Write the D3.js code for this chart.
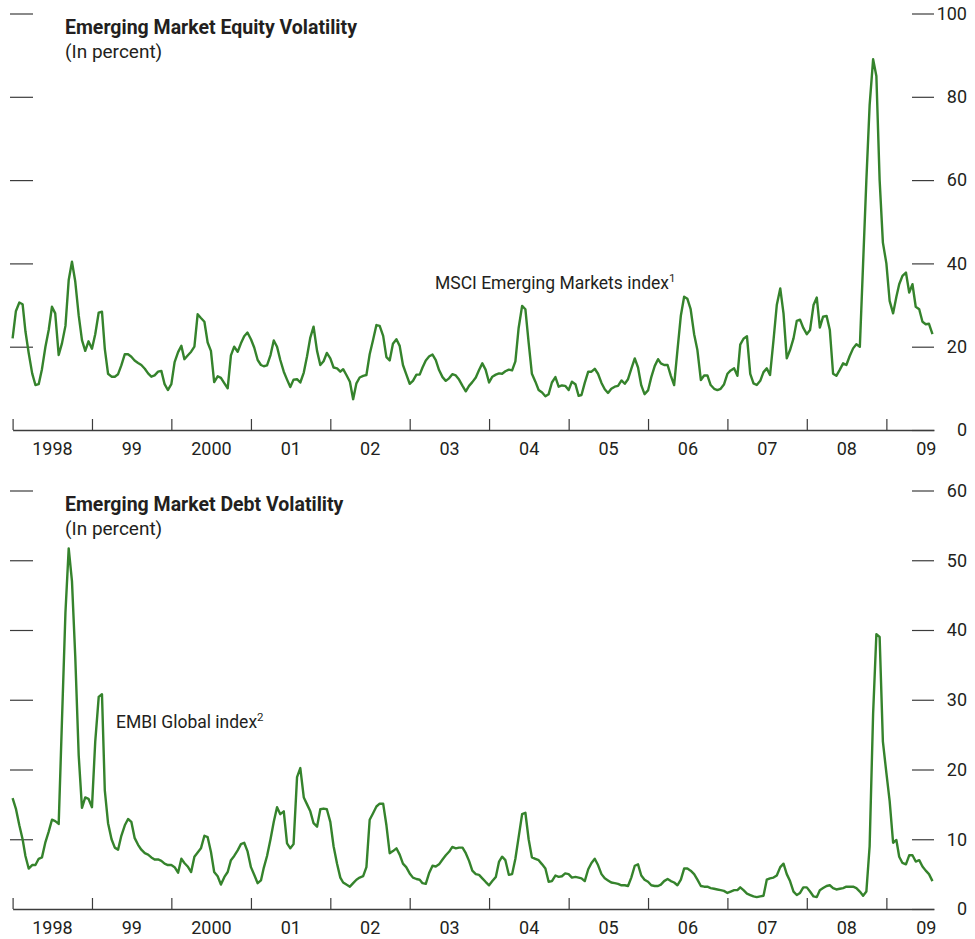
<!DOCTYPE html>
<html>
<head>
<meta charset="utf-8">
<script src="https://cdn.jsdelivr.net/npm/d3@7"></script>
<style>
  body { margin: 0; background: #fff; }
  svg text { font-family: "Liberation Sans Narrow", "Arial Narrow", "Roboto", sans-serif; fill: #231f20; }
</style>
</head>
<body>
<svg id="canvas" width="975" height="939"></svg>
<script>
// MSCI Emerging Markets index volatility, semi-monthly readings from Jan 1998
const equityValues = [
  22.0, 28.5, 30.6, 30.2, 23.7, 18.5, 13.6, 10.8, 11.0, 14.6,
  20.0, 24.0, 29.6, 28.0, 18.0, 20.8, 25.0, 36.0, 40.4, 35.7,
  27.5, 21.6, 19.0, 21.3, 19.5, 23.0, 28.2, 28.4, 19.5, 13.5,
  12.8, 12.8, 13.4, 15.5, 18.2, 18.2, 17.6, 16.7, 16.1, 15.6,
  14.7, 13.6, 12.8, 13.1, 14.0, 14.2, 11.0, 9.6, 11.0, 16.3,
  18.7, 20.2, 17.0, 17.9, 18.8, 20.0, 27.8, 26.9, 26.0, 21.0,
  19.0, 11.5, 12.9, 12.5, 11.2, 10.0, 17.9, 20.0, 18.8, 20.8,
  22.5, 23.4, 21.8, 19.8, 16.8, 15.6, 15.3, 15.5, 18.0, 21.5,
  20.0, 16.8, 14.0, 12.1, 10.3, 12.1, 12.2, 11.4, 13.8, 17.7,
  22.2, 24.8, 19.0, 15.6, 16.5, 18.5, 17.2, 15.0, 14.8, 14.0,
  14.6, 13.2, 11.6, 7.4, 11.2, 12.6, 13.0, 13.2, 18.2, 21.5,
  25.2, 25.0, 22.6, 17.5, 16.7, 20.7, 21.8, 20.2, 15.6, 13.4,
  11.1, 11.8, 13.3, 13.3, 15.0, 16.7, 17.7, 18.1, 16.8, 14.4,
  12.7, 11.8, 12.4, 13.4, 13.1, 12.1, 10.6, 9.3, 10.6, 11.5,
  12.6, 14.4, 16.0, 14.5, 11.4, 12.8, 13.3, 13.6, 13.5, 14.1,
  14.5, 14.3, 16.5, 24.5, 29.8, 29.0, 21.0, 13.5, 11.6, 9.6,
  9.0, 8.1, 8.6, 11.4, 12.7, 10.4, 10.7, 10.6, 9.6, 11.6,
  11.0, 8.2, 8.4, 11.3, 14.0, 14.0, 14.7, 13.5, 11.3, 9.8,
  8.9, 9.9, 10.4, 10.6, 11.9, 11.1, 12.2, 14.7, 17.2, 15.0,
  10.7, 8.6, 9.5, 12.7, 15.4, 17.0, 16.0, 15.6, 15.6, 13.0,
  10.8, 19.0, 27.5, 32.0, 31.5, 29.0, 23.0, 19.2, 12.0, 13.1,
  13.1, 10.8, 9.9, 9.6, 9.9, 10.9, 13.5, 14.3, 14.8, 13.0,
  20.5, 21.9, 22.5, 13.5, 11.2, 10.8, 11.8, 13.9, 14.8, 13.2,
  21.6, 30.0, 34.0, 28.0, 17.2, 19.2, 22.0, 26.2, 26.5, 24.5,
  23.0, 24.0, 30.0, 31.8, 24.6, 27.2, 27.4, 24.0, 13.5, 13.0,
  14.5, 16.0, 15.6, 17.7, 19.6, 20.6, 20.0, 40.0, 60.0, 78.0,
  89.0, 85.0, 60.0, 45.0, 40.0, 31.0, 28.0, 32.0, 35.0, 37.0,
  37.8, 33.0, 35.0, 29.6, 29.0, 26.0, 25.4, 25.5, 23.0
];

// EMBI Global index volatility, same dates
const embiValues = [
  15.9, 14.4, 12.0, 10.0, 7.6, 5.8, 6.3, 6.3, 7.2, 7.4,
  9.6, 11.1, 12.8, 12.6, 12.2, 27.0, 42.5, 51.7, 47.0, 36.3,
  22.0, 14.5, 16.0, 15.8, 14.6, 24.0, 30.4, 30.8, 17.0, 12.3,
  10.0, 8.8, 8.5, 10.5, 12.0, 12.9, 12.5, 10.2, 9.2, 8.5,
  8.0, 7.8, 7.4, 7.1, 7.1, 6.9, 6.5, 6.3, 6.3, 6.0,
  5.2, 7.2, 6.6, 6.1, 5.3, 7.5, 8.1, 8.7, 10.5, 10.3,
  8.2, 5.3, 4.7, 3.5, 4.6, 5.3, 7.0, 7.6, 8.4, 9.3,
  9.5, 8.3, 6.0, 4.9, 3.7, 4.1, 5.9, 7.6, 10.0, 12.5,
  14.6, 13.6, 14.0, 9.4, 8.7, 9.3, 18.9, 20.2, 16.0, 15.0,
  14.0, 12.3, 11.8, 14.3, 14.4, 14.3, 12.5, 9.0, 6.5, 4.5,
  3.8, 3.5, 3.2, 3.7, 4.2, 4.5, 4.7, 6.0, 12.8, 13.7,
  14.7, 15.1, 15.1, 12.0, 8.0, 8.3, 8.7, 7.8, 6.5, 6.0,
  5.1, 4.5, 4.3, 4.2, 3.7, 3.6, 5.2, 6.2, 6.1, 6.4,
  7.1, 7.7, 8.2, 8.9, 8.7, 8.8, 8.8, 8.0, 6.9, 5.5,
  5.0, 4.9, 4.4, 3.9, 3.4, 4.0, 4.6, 6.8, 7.5, 7.0,
  4.9, 5.0, 7.2, 10.3, 13.6, 13.8, 10.0, 7.4, 7.2, 7.0,
  6.4, 5.8, 3.9, 4.0, 4.8, 4.6, 4.7, 5.1, 5.0, 4.5,
  4.6, 4.5, 4.4, 4.0, 5.7, 6.6, 7.2, 6.3, 5.0, 4.4,
  4.1, 3.8, 3.7, 3.6, 3.4, 3.4, 3.3, 4.5, 6.2, 6.4,
  4.8, 4.2, 3.9, 3.4, 3.3, 3.3, 3.5, 4.0, 4.3, 4.0,
  3.8, 3.4, 4.2, 5.8, 5.8, 5.5, 5.0, 4.2, 3.3, 3.2,
  3.2, 3.0, 2.9, 2.8, 2.7, 2.6, 2.3, 2.5, 2.7, 2.7,
  3.1, 2.7, 2.2, 2.0, 1.8, 1.7, 1.8, 1.9, 4.2, 4.4,
  4.5, 4.8, 6.0, 6.5, 5.0, 4.0, 2.5, 2.0, 2.3, 3.1,
  3.1, 2.5, 1.8, 1.7, 2.7, 3.0, 3.3, 3.4, 3.0, 2.8,
  2.9, 3.0, 3.2, 3.2, 3.2, 3.0, 2.5, 1.9, 2.5, 9.0,
  28.0, 39.4, 39.0, 24.0, 19.5, 15.5, 9.5, 9.9, 7.5, 6.6,
  6.4, 7.7, 7.7, 6.8, 7.0, 6.1, 5.5, 5.0, 4.0
];

const yearLabels = ["1998", "99", "2000", "01", "02", "03", "04", "05", "06", "07", "08", "09"];
const equityTicks = [0, 20, 40, 60, 80, 100];
const debtTicks = [0, 10, 20, 30, 40, 50, 60];

// observations fall on the 1st and 16th of each month
const dates = equityValues.map((v, i) => new Date(1998, Math.floor(i / 2), i % 2 ? 16 : 1));
const midYears = yearLabels.map((d, i) => new Date(1998 + i, 6, 1));

const canvas = d3.select("#canvas");
const lineColor = "#35832c";
const axisColor = "#3c3c3c";

const x = d3.scaleTime()
  .domain([new Date(1998, 0, 1), new Date(2009, 7, 8)])
  .range([12.6, 934]);

const drawPanel = (values, ticks, yRange, title, note, notePos, sup) => {
  const y = d3.scaleLinear().domain([0, d3.max(ticks)]).range(yRange);
  const g = canvas.append("g");

  // year ticks along the baseline
  g.append("g")
    .attr("transform", `translate(0,${yRange[0]})`)
    .style("color", axisColor)
    .call(d3.axisBottom(x).ticks(d3.timeYear.every(1)).tickSizeInner(-11).tickSizeOuter(0).tickFormat(""))
    .call((a) => a.select(".domain").attr("stroke-width", 1.4))
    .call((a) => a.selectAll(".tick line").attr("stroke-width", 1.2));

  // year labels sit in the middle of each year
  g.append("g")
    .attr("transform", `translate(0,${yRange[0]})`)
    .call(d3.axisBottom(x).tickValues(midYears).tickSize(0).tickPadding(12).tickFormat((d, i) => yearLabels[i]))
    .attr("font-size", 18)
    .call((a) => a.select(".domain").remove());

  // right scale
  g.append("g")
    .attr("transform", "translate(912,0)")
    .style("color", axisColor)
    .call(d3.axisRight(y).tickValues(ticks).tickSize(22))
    .attr("font-size", 18)
    .call((a) => a.select(".domain").remove())
    .call((a) => a.selectAll(".tick line").attr("stroke-width", 1.2))
    .call((a) => a.selectAll("text").attr("text-anchor", "end").attr("x", 55));

  // left tick marks, no labels
  g.append("g")
    .attr("transform", "translate(10,0)")
    .style("color", axisColor)
    .call(d3.axisRight(y).tickValues(ticks.filter((t) => t > 0)).tickSize(23).tickFormat(""))
    .call((a) => a.select(".domain").remove())
    .call((a) => a.selectAll(".tick line").attr("stroke-width", 1.2));

  g.append("text")
    .attr("x", 65)
    .attr("y", yRange[1] + 20)
    .attr("font-size", 19.5)
    .attr("font-weight", "bold")
    .text(title);

  g.append("text")
    .attr("x", 65)
    .attr("y", yRange[1] + 44)
    .attr("font-size", 19)
    .text("(In percent)");

  const label = g.append("text")
    .attr("x", notePos[0])
    .attr("y", notePos[1])
    .attr("font-size", 17.5)
    .text(note);
  label.append("tspan").attr("font-size", 11.5).attr("dy", -7).text(sup);

  g.append("path")
    .datum(values)
    .attr("fill", "none")
    .attr("stroke", lineColor)
    .attr("stroke-width", 2.4)
    .attr("stroke-linejoin", "round")
    .attr("d", d3.line().x((d, i) => x(dates[i])).y((d) => y(d)));
};

drawPanel(equityValues, equityTicks, [430, 13.5], "Emerging Market Equity Volatility",
  "MSCI Emerging Markets index", [435, 289], "1");
drawPanel(embiValues, debtTicks, [909, 490.5], "Emerging Market Debt Volatility",
  "EMBI Global index", [116, 728], "2");
</script>
</body>
</html>
